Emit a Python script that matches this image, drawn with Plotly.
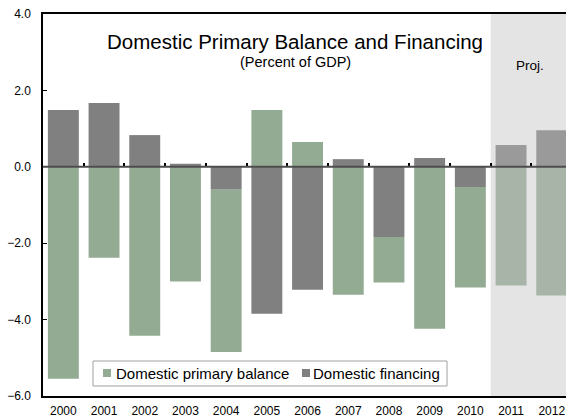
import plotly.graph_objects as go

# Fiscal years (2011-2012 are projections)
years = ["2000", "2001", "2002", "2003", "2004", "2005", "2006",
         "2007", "2008", "2009", "2010", "2011", "2012"]

# Percent of GDP
primary_balance = [-5.55, -2.38, -4.42, -3.00, -4.25, 1.49, 0.65,
                   -3.35, -1.19, -4.24, -2.63, -3.11, -3.37]
domestic_financing = [1.49, 1.67, 0.83, 0.08, -0.60, -3.85, -3.22,
                      0.20, -1.84, 0.23, -0.53, 0.57, 0.96]

n_proj = 2
green, green_proj = "#93AB93", "#A7B4A7"
grey, grey_proj = "#808080", "#9A9A9A"
green_colors = [green] * (len(years) - n_proj) + [green_proj] * n_proj
grey_colors = [grey] * (len(years) - n_proj) + [grey_proj] * n_proj

FONT = "Liberation Sans, Arial, sans-serif"

fig = go.Figure()
# financing stacks first so that it sits next to the zero line
fig.add_trace(go.Bar(
    x=years, y=domestic_financing, name="Domestic financing",
    marker=dict(color=grey_colors, line=dict(width=0)),
    showlegend=False,
))
fig.add_trace(go.Bar(
    x=years, y=primary_balance, name="Domestic primary balance",
    marker=dict(color=green_colors, line=dict(width=0)),
    showlegend=False,
))
# carrier for the tick marks along the zero line
fig.add_trace(go.Scatter(x=[], y=[], xaxis="x2", yaxis="y",
                         showlegend=False, hoverinfo="skip"))

x_range = [-0.5, 12.35]
boundaries = [i + 0.5 for i in range(len(years) - 1)]

# Boxed key drawn in paper coordinates
key_box = dict(x0=0.0956, x1=0.7725, y0=0.0262, y1=0.0916)
key_items = [
    ("Domestic primary balance", green, 0.1147, 0.1377),
    ("Domestic financing", grey, 0.4952, 0.5143),
]
sq_y0, sq_y1, text_y = 0.0497, 0.0707, 0.0602
sq_w = 0.0153

shapes = [
    dict(type="rect", xref="x", yref="paper", x0=10.5, x1=x_range[1],
         y0=0, y1=1, fillcolor="#E4E4E4", line=dict(width=0),
         layer="below"),
    dict(type="line", xref="paper", yref="y", x0=0, x1=1, y0=0, y1=0,
         line=dict(color="#4D4D4D", width=2), layer="above"),
    dict(type="rect", xref="paper", yref="paper", **key_box,
         fillcolor="white", line=dict(color="#A0A0A0", width=1),
         layer="above"),
]
annotations = [
    dict(text="Domestic Primary Balance and Financing", xref="paper",
         yref="paper", x=0.482, y=0.927, showarrow=False,
         font=dict(size=20.5), xanchor="center", yanchor="middle"),
    dict(text="(Percent of GDP)", xref="paper", yref="paper",
         x=0.482, y=0.874, showarrow=False, font=dict(size=14.5),
         xanchor="center", yanchor="middle"),
    dict(text="Proj.", xref="paper", yref="paper", x=0.931, y=0.866,
         showarrow=False, font=dict(size=13.5),
         xanchor="center", yanchor="middle"),
]
for label, color, sq_x, txt_x in key_items:
    shapes.append(dict(type="rect", xref="paper", yref="paper",
                       x0=sq_x, x1=sq_x + sq_w, y0=sq_y0, y1=sq_y1,
                       fillcolor=color, line=dict(width=0), layer="above"))
    annotations.append(dict(text=label, xref="paper", yref="paper",
                            x=txt_x, y=text_y, showarrow=False,
                            font=dict(size=15), xanchor="left",
                            yanchor="middle", borderpad=0))

fig.update_layout(
    width=566, height=418,
    margin=dict(l=43, r=0, t=14, b=22),
    paper_bgcolor="white", plot_bgcolor="white",
    font=dict(family=FONT, size=12, color="black"),
    barmode="relative", bargap=0.24,
    showlegend=False,
    xaxis=dict(
        type="category", range=x_range, automargin=False,
        showline=True, linecolor="black", linewidth=1.5, mirror=True,
        ticks="", showgrid=False, zeroline=False,
        tickfont=dict(size=12), ticklabelstandoff=3,
    ),
    xaxis2=dict(
        type="linear", range=x_range, overlaying="x",
        anchor="free", position=0.6, side="top", automargin=False,
        tickvals=boundaries, showticklabels=False,
        ticks="outside", ticklen=4, tickwidth=1.5, tickcolor="black",
        showline=False, showgrid=False, zeroline=False,
    ),
    yaxis=dict(
        range=[-6, 4], dtick=2, tickformat=".1f", automargin=False,
        showline=True, linecolor="black", linewidth=1.5,
        ticks="inside", ticklen=4, tickwidth=1, tickcolor="black",
        showgrid=False, zeroline=False,
        tickfont=dict(size=12), ticklabelstandoff=8,
    ),
    shapes=shapes,
    annotations=annotations,
)

fig.write_html("out.html")
